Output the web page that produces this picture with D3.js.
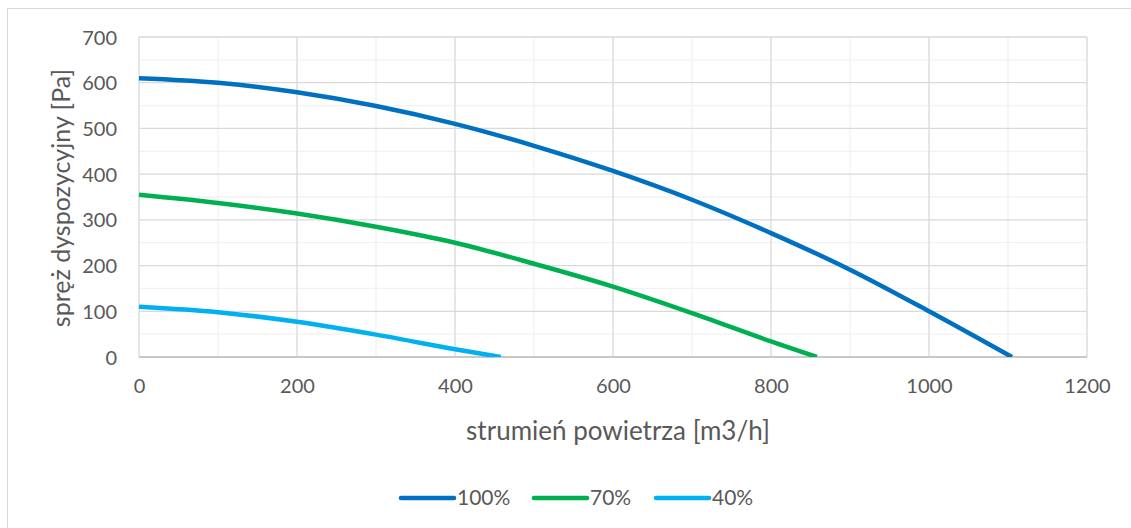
<html>
<head>
<meta charset="utf-8">
<style>
  body { margin: 0; background: #fff; }
  svg text { font-family: Lato, "Open Sans", sans-serif; fill: #595959; }
</style>
</head>
<body>
<svg id="chart" width="1131" height="528"></svg>
<script src="https://cdn.jsdelivr.net/npm/d3@7"></script>
<script>
// values
var seriesNames = ['100%', '70%', '40%'];
var seriesColors = ['#0070C0', '#00B050', '#00B0F0'];

var flow100 = [0, 100, 200, 300, 400, 500, 600, 700, 800, 900, 1000, 1105];
var press100 = [610, 600, 579, 549, 510, 462, 407, 344, 271, 191, 100, 0];

var flow70 = [0, 100, 200, 300, 400, 500, 600, 700, 800, 858];
var press70 = [355, 337, 314, 285, 250, 204, 154, 96, 34, 0];

var flow40 = [0, 100, 200, 300, 400, 458];
var press40 = [110, 98, 77, 49, 17, 0];

var xTicks = [0, 200, 400, 600, 800, 1000, 1200];
var yTicks = [0, 100, 200, 300, 400, 500, 600, 700];
var xMinor = [100, 300, 500, 700, 900, 1100];
var yMinor = [50, 150, 250, 350, 450, 550, 650];

var series = [
  { name: seriesNames[0], color: seriesColors[0], pts: d3.zip(flow100, press100) },
  { name: seriesNames[1], color: seriesColors[1], pts: d3.zip(flow70, press70) },
  { name: seriesNames[2], color: seriesColors[2], pts: d3.zip(flow40, press40) }
];

var plotL = 139, plotR = 1087, plotT = 37, plotB = 357;

var x = d3.scaleLinear().domain([0, 1200]).range([plotL, plotR]);
var y = d3.scaleLinear().domain([0, 700]).range([plotB, plotT]);

var svg = d3.select('#chart');

// lines get cut at the x axis like in the original
svg.append('defs').append('clipPath').attr('id', 'plotclip')
  .append('rect')
  .attr('x', plotL - 3).attr('y', plotT - 3)
  .attr('width', plotR - plotL + 6).attr('height', plotB - plotT + 3);

// outer chart border (only left/top visible in the crop)
svg.append('rect')
  .attr('x', 7.5).attr('y', 8.5)
  .attr('width', 1200).attr('height', 600)
  .attr('fill', 'none').attr('stroke', '#d9d9d9').attr('stroke-width', 1);

var grid = svg.append('g');

// minor grid
grid.selectAll('.vminor').data(xMinor).enter().append('line')
  .attr('x1', x).attr('x2', x).attr('y1', plotT).attr('y2', plotB)
  .attr('stroke', '#f2f2f2').attr('stroke-width', 1.3);
grid.selectAll('.hminor').data(yMinor).enter().append('line')
  .attr('y1', y).attr('y2', y).attr('x1', plotL).attr('x2', plotR)
  .attr('stroke', '#f2f2f2').attr('stroke-width', 1.3);

// major grid
grid.selectAll('.vmajor').data(xTicks).enter().append('line')
  .attr('x1', x).attr('x2', x).attr('y1', plotT).attr('y2', plotB)
  .attr('stroke', '#d9d9d9').attr('stroke-width', 1.3);
grid.selectAll('.hmajor').data(yTicks).enter().append('line')
  .attr('y1', y).attr('y2', y).attr('x1', plotL).attr('x2', plotR)
  .attr('stroke', '#d9d9d9').attr('stroke-width', 1.3);

// bottom axis line
svg.append('line')
  .attr('x1', plotL).attr('x2', plotR).attr('y1', y(0)).attr('y2', y(0))
  .attr('stroke', '#bfbfbf').attr('stroke-width', 1.5);

// axes (labels only)
var xAxis = d3.axisBottom(x).tickValues(xTicks).tickSize(0).tickPadding(0).tickFormat(d3.format('d'));
var yAxis = d3.axisLeft(y).tickValues(yTicks).tickSize(0).tickPadding(0).tickFormat(d3.format('d'));

var gx = svg.append('g').attr('transform', 'translate(0,' + (plotB + 22) + ')').call(xAxis);
var gy = svg.append('g').attr('transform', 'translate(' + (plotL - 22) + ',0)').call(yAxis);
[gx, gy].forEach(function(g) {
  g.select('.domain').remove();
  g.selectAll('text').attr('font-family', 'Lato, sans-serif')
    .attr('font-size', 20).attr('fill', '#595959');
});
gy.selectAll('text').attr('dy', '0.35em');
gx.selectAll('text').attr('dy', '0.71em');

// lines
var line = d3.line()
  .x(function(d) { return x(d[0]); })
  .y(function(d) { return y(d[1]); })
  .curve(d3.curveCatmullRom.alpha(0.5));

svg.append('g').attr('clip-path', 'url(#plotclip)')
  .selectAll('path').data(series).enter().append('path')
  .attr('d', function(d) { return line(d.pts); })
  .attr('fill', 'none')
  .attr('stroke', function(d) { return d.color; })
  .attr('stroke-width', 4.5);

// axis titles
svg.append('text')
  .attr('x', 618).attr('y', 440)
  .attr('text-anchor', 'middle').attr('font-size', 26)
  .text('strumień powietrza [m3/h]');

svg.append('text')
  .attr('transform', 'translate(70,' + 198 + ') rotate(-90)')
  .attr('text-anchor', 'middle').attr('font-size', 25)
  .text('spręż dyspozycyjny [Pa]');

// legend
var legendX = [401, 534, 656];
var lg = svg.append('g').selectAll('g').data(series).enter().append('g')
  .attr('transform', function(d, i) { return 'translate(' + legendX[i] + ',498)'; });
lg.append('line')
  .attr('x1', 0).attr('x2', 53).attr('y1', 0).attr('y2', 0)
  .attr('stroke', function(d) { return d.color; })
  .attr('stroke-width', 4.5).attr('stroke-linecap', 'round');
lg.append('text')
  .attr('x', 56).attr('y', 0).attr('dy', '0.35em')
  .attr('font-size', 21)
  .text(function(d) { return d.name; });
</script>
</body>
</html>
